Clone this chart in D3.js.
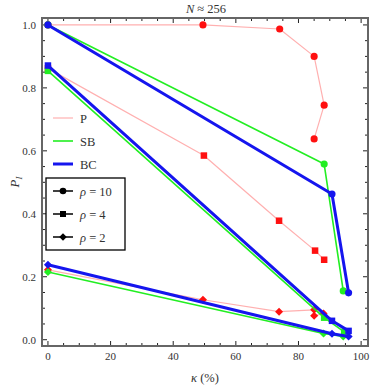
<html>
<head>
  <script src="https://d3js.org/d3.v7.min.js"></script>
  <style>
    body { margin: 0; background: white; }
    text { font-family: "Liberation Serif", "DejaVu Serif", serif; }
  </style>
</head>
<body>
<svg id="chart" width="374" height="387"></svg>
<script>
// kappa (%) and P_I values, per method and rho
const methods = ["P", "SB", "BC"];
const rhos = ["10", "4", "2"];

const P_rho10 = [[0, 1.0], [49.5, 1.0], [74, 0.987], [85, 0.90], [88.2, 0.745], [85, 0.638]];
const P_rho4  = [[0, 0.862], [49.8, 0.585], [73.8, 0.378], [85.3, 0.283], [88.2, 0.254]];
const P_rho2  = [[0, 0.222], [49.5, 0.127], [73.8, 0.089], [85, 0.095], [88, 0.083], [85, 0.076]];

const SB_rho10 = [[0, 1.0], [88.2, 0.558], [94.3, 0.155]];
const SB_rho4  = [[0, 0.854], [88.2, 0.07], [94.6, 0.025]];
const SB_rho2  = [[0, 0.215], [88, 0.02], [94.3, 0.01]];

const BC_rho10 = [[0, 1.0], [90.7, 0.463], [96, 0.149]];
const BC_rho4  = [[0, 0.871], [90.7, 0.06], [96, 0.028]];
const BC_rho2  = [[0, 0.238], [90.7, 0.019], [96, 0.01]];

const xTicks = [0, 20, 40, 60, 80, 100];
const yTicks = [0, 0.2, 0.4, 0.6, 0.8, 1.0];

const series = {
  P:  [P_rho10, P_rho4, P_rho2],
  SB: [SB_rho10, SB_rho4, SB_rho2],
  BC: [BC_rho10, BC_rho4, BC_rho2]
};
const lineColor = {P: "#ffb0b0", SB: "#22ee22", BC: "#1515ee"};
const markColor = {P: "#ff1010", SB: "#22ee22", BC: "#1515ee"};
const lineWidth = {P: 1.2, SB: 1.6, BC: 3};

let svg = d3.select("svg#chart");
const pl = 42, pr = 368, pt = 18, pb = 346;

let x = d3.scaleLinear().domain([-1.9, 102.2]).range([pl, pr]);
let y = d3.scaleLinear().domain([-0.02, 1.022]).range([pb, pt]);

const frame = "#666";

// minor + major ticks on all four sides
const xMinor = d3.range(0, 101, 5);
const yMinor = d3.range(0, 1.001, 0.05);
xMinor.forEach(v => {
  let len = (v % 20 == 0) ? 5 : 3;
  svg.append("line").attr("x1", x(v)).attr("x2", x(v)).attr("y1", pb).attr("y2", pb - len)
    .style("stroke", "#222").style("stroke-width", 1);
  svg.append("line").attr("x1", x(v)).attr("x2", x(v)).attr("y1", pt).attr("y2", pt + len)
    .style("stroke", "#222").style("stroke-width", 1);
});
yMinor.forEach((v, i) => {
  let len = (i % 4 == 0) ? 5 : 3;
  svg.append("line").attr("y1", y(v)).attr("y2", y(v)).attr("x1", pl).attr("x2", pl + len)
    .style("stroke", "#222").style("stroke-width", 1);
  svg.append("line").attr("y1", y(v)).attr("y2", y(v)).attr("x1", pr).attr("x2", pr - len)
    .style("stroke", "#222").style("stroke-width", 1);
});

svg.append("rect").attr("x", pl).attr("y", pt).attr("width", pr - pl).attr("height", pb - pt)
  .style("fill", "none").style("stroke", frame).style("stroke-width", 2);

xTicks.forEach(v => {
  svg.append("text").text(v).attr("x", x(v)).attr("y", pb + 14)
    .style("font-size", "11px").style("text-anchor", "middle").style("fill", "#333");
});
yTicks.forEach(v => {
  svg.append("text").text(v.toFixed(1)).attr("x", pl - 6).attr("y", y(v) + 4)
    .style("font-size", "11px").style("text-anchor", "end").style("fill", "#333");
});

// title and axis labels
let title = svg.append("text").attr("x", 206).attr("y", 13)
  .style("font-size", "12.5px").style("text-anchor", "middle").style("fill", "#333");
title.append("tspan").text("N").style("font-style", "italic");
title.append("tspan").text(" \u2248 256");

let xl = svg.append("text").attr("x", 205).attr("y", 382)
  .style("font-size", "12.5px").style("text-anchor", "middle").style("fill", "#333");
xl.append("tspan").text("\u03ba").style("font-style", "italic");
xl.append("tspan").text(" (%)");

let yl = svg.append("text").attr("transform", "translate(19,182) rotate(-90)")
  .style("font-size", "13px").style("text-anchor", "middle").style("fill", "#333");
yl.append("tspan").text("P").style("font-style", "italic");
yl.append("tspan").text("I").style("font-style", "italic").style("font-size", "9px").attr("dy", 3);

const lineGen = d3.line().x(d => x(d[0])).y(d => y(d[1]));

function marker(g, shape, cx, cy, color, s) {
  if (shape == 0) {
    g.append("circle").attr("cx", cx).attr("cy", cy).attr("r", s * 0.55).style("fill", color);
  } else if (shape == 1) {
    g.append("rect").attr("x", cx - s / 2).attr("y", cy - s / 2).attr("width", s).attr("height", s).style("fill", color);
  } else {
    let r = s * 0.62;
    g.append("path").attr("d", `M${cx},${cy - r}L${cx + r},${cy}L${cx},${cy + r}L${cx - r},${cy}Z`).style("fill", color);
  }
}

let plot = svg.append("g");
methods.forEach(m => {
  series[m].forEach((pts, i) => {
    plot.append("path").attr("d", lineGen(pts)).style("fill", "none")
      .style("stroke", lineColor[m]).style("stroke-width", lineWidth[m]).style("stroke-linejoin", "round");
    pts.forEach(p => marker(plot, i, x(p[0]), y(p[1]), markColor[m], 6.5));
  });
});

// legend: methods
const legY = [118, 141, 164];
methods.forEach((m, i) => {
  svg.append("line").attr("x1", 53).attr("x2", 73).attr("y1", legY[i]).attr("y2", legY[i])
    .style("stroke", lineColor[m]).style("stroke-width", lineWidth[m]);
  svg.append("text").text(m).attr("x", 80).attr("y", legY[i] + 4.5)
    .style("font-size", "12.5px").style("fill", "#333");
});

// legend: rho markers
svg.append("rect").attr("x", 46).attr("y", 178).attr("width", 79).attr("height", 72)
  .style("fill", "white").style("stroke", "black").style("stroke-width", 1.3);
const rhoY = [191, 214, 237];
rhos.forEach((r, i) => {
  svg.append("line").attr("x1", 53).attr("x2", 73).attr("y1", rhoY[i]).attr("y2", rhoY[i])
    .style("stroke", "black").style("stroke-width", 1.5);
  marker(svg, i, 63, rhoY[i], "black", 6);
  let t = svg.append("text").attr("x", 80).attr("y", rhoY[i] + 4.5)
    .style("font-size", "12.5px").style("fill", "#333");
  t.append("tspan").text("\u03c1").style("font-style", "italic");
  t.append("tspan").text(" = " + r);
});
</script>
</body>
</html>
